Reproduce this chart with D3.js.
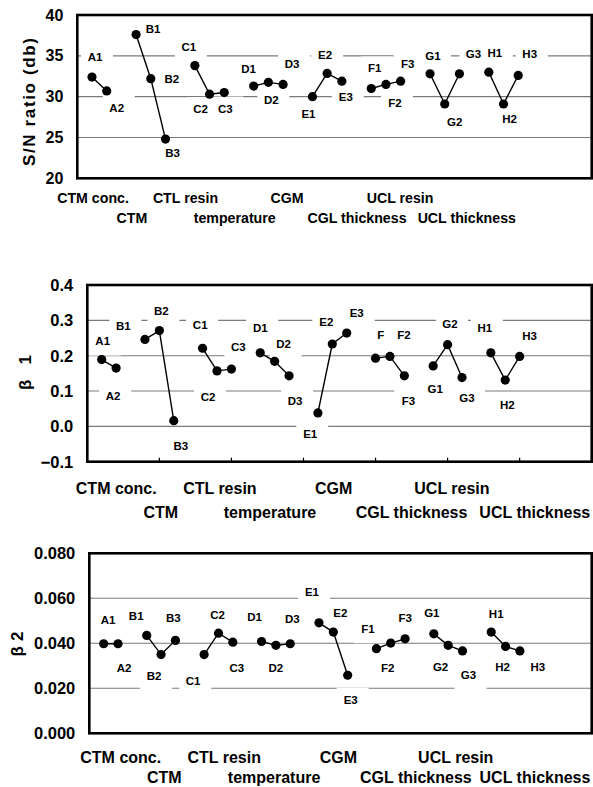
<!DOCTYPE html>
<html><head><meta charset="utf-8">
<script src="https://cdn.jsdelivr.net/npm/d3@7"></script>
<style>
html,body{margin:0;padding:0;background:#fff;}
svg{display:block;}
text{font-family:"Liberation Sans",Arial,sans-serif;font-weight:bold;fill:#000;}
</style></head>
<body>
<script>
// ---- data ----
const categories = ["A1","A2","","B1","B2","B3","","C1","C2","C3","","D1","D2","D3","","E1","E2","E3","","F1","F2","F3","","G1","G2","G3","","H1","H2","H3"];
const snRatio = [32.4,30.7,null,37.6,32.2,24.8,null,33.8,30.3,30.5,null,31.3,31.75,31.5,null,30.0,32.85,31.9,null,31.0,31.5,31.9,null,32.8,29.1,32.8,null,33.0,29.1,32.6];
const beta1 = [0.189,0.165,null,0.246,0.271,0.016,null,0.221,0.157,0.162,null,0.208,0.184,0.143,null,0.038,0.233,0.264,null,0.193,0.198,0.143,null,0.171,0.231,0.138,null,0.208,0.131,0.198];
const beta2 = [0.0398,0.0398,null,0.0435,0.0350,0.0413,null,0.0350,0.0445,0.0405,null,0.0408,0.0391,0.0398,null,0.0491,0.0450,0.0258,null,0.0376,0.0401,0.0420,null,0.0442,0.0391,0.0366,null,0.0450,0.0386,0.0366];
const pointLabels1 = categories;
const pointLabels2 = categories.map(c => c === "F1" ? "F" : c);
const pointLabels3 = categories;
const factorNames = ["CTM conc.","CTM","CTL resin","temperature","CGM","CGL thickness","UCL resin","UCL thickness"];
const snTicks = [20,25,30,35,40];
const beta1Ticks = [-0.1,0.0,0.1,0.2,0.3,0.4];
const beta2Ticks = [0.000,0.020,0.040,0.060,0.080];

// ---- layout (label offsets in px relative to their point, in order of non-blank categories) ----
const offs1 = [[3,-20],[10,17],[17,-6],[21,0],[7,14],[-6,-19],[-9,15],[1,16],[-5,-17],[3,18],[9,-20],[-4,17],[-2,-18],[4,16],[3.5,-20],[9,19],[7,-17],[3,-18],[10,18.5],[14,-19.5],[6,-19],[6,15],[11.5,-21]];
const offs2 = [[1,-18.5],[-3,28],[-21.6,-13.5],[2,-20],[7,25],[-2.4,-23],[-9,26],[7,-22],[0,-25],[9,-17],[6,25.5],[-7.7,21],[-6,-22.5],[10,-19.6],[5.3,-23],[14,-21],[4,25],[2,23],[2.4,-21],[5,20],[-6,-25],[2,25],[10,-20.6]];
const offs3 = [[4.5,-24],[6,24],[-10.5,-19],[-7,21.5],[-2,-22],[-11,26.5],[-1,-18.5],[4,26],[-7,-25],[0,22.5],[2,-24.6],[-7,-30.5],[7,-19],[3,24.5],[-8.5,-20],[-3,24.5],[0,-20.5],[-2,-20.5],[-7.6,22],[6,24],[5,-18],[-3,21],[18,16.5]];
const factorPos1 = [0.07,2.72,6.36,9.71,13.27,18.03,20.96,25.5];
const factorPos2 = [1.01,4.1,8.2,11.68,16.1,21.5,24.3,30.05];
const factorPos3 = [1.19,4.22,8.4,11.87,16.35,21.75,24.53,30.05];

const W = 593, H = 787;
const svg = d3.select("body").append("svg").attr("width", W).attr("height", H);

const panels = [
  {values: snRatio, labels: pointLabels1, offs: offs1, ticks: snTicks, domain:[20,40], grid:[25,30,35],
   left:77.3, right:591.7, top:15, bottom:178.3, fmt: d3.format("d"), tickFont:16,
   title:"S/N ratio (db)", titleX:29, titleY:102, titleLen:128, titleFont:17,
   factorPos: factorPos1, factorFont:14.2, row1:197.7, row2:217.7, bottomTicks:false},
  {values: beta1, labels: pointLabels2, offs: offs2, ticks: beta1Ticks, domain:[-0.1,0.4], grid:[0,0.1,0.2,0.3],
   left:87.3, right:591.7, top:285, bottom:461.7, fmt: d => d3.format(".1f")(d).replace("-", "\u2212"), tickFont:16.5,
   title:"\u03b2 1", titleX:25.6, titleY:372.5, titleLen:35, titleFont:17,
   factorPos: factorPos2, factorFont:16, row1:488.3, row2:512.7, bottomTicks:true},
  {values: beta2, labels: pointLabels3, offs: offs3, ticks: beta2Ticks, domain:[0,0.08], grid:[0.02,0.04,0.06],
   left:89.3, right:591.7, top:553.3, bottom:733.3, fmt: d3.format(".3f"), tickFont:16.5,
   title:"\u03b2 2", titleX:17.5, titleY:644, titleLen:25, titleFont:17,
   factorPos: factorPos3, factorFont:16, row1:757.3, row2:777.5, bottomTicks:false}
];

panels.forEach(p => {
  const g = svg.append("g");
  const x = d3.scaleLinear().domain([-1, 34]).range([p.left, p.right]);
  const y = d3.scaleLinear().domain(p.domain).range([p.bottom, p.top]);

  // gridlines
  g.selectAll(".grid").data(p.grid).join("line")
    .attr("x1", p.left).attr("x2", p.right)
    .attr("y1", d => y(d)).attr("y2", d => y(d))
    .attr("stroke", "#7a7a7a").attr("stroke-width", 1.1);

  // point label boxes + texts
  const pts = p.values.map((v,i) => ({v, i, name: p.labels[i]})).filter(d => d.v != null);
  pts.forEach((d,k) => { d.cx = x(d.i) + p.offs[k][0]; d.cy = y(d.v) + p.offs[k][1]; });
  g.selectAll(".lbox").data(pts).join("rect")
    .attr("x", d => d.cx - 14).attr("y", d => d.cy - 12)
    .attr("width", 32).attr("height", 26.5).attr("fill", "#fff");
  g.selectAll(".ltxt").data(pts).join("text")
    .attr("x", d => d.cx).attr("y", d => d.cy)
    .attr("text-anchor", "middle").attr("dominant-baseline", "central")
    .attr("font-size", 11.5).text(d => d.name);

  // series lines (broken at blank categories)
  const line = d3.line().defined(d => d != null).x((d,i) => x(i)).y(d => y(d));
  g.append("path").datum(p.values).attr("d", line)
    .attr("fill", "none").attr("stroke", "#000").attr("stroke-width", 1.4);
  g.selectAll(".pt").data(pts).join("circle")
    .attr("cx", d => x(d.i)).attr("cy", d => y(d.v)).attr("r", 4.6).attr("fill", "#000");

  // frame
  g.append("rect").attr("x", p.left).attr("y", p.top)
    .attr("width", p.right - p.left).attr("height", p.bottom - p.top)
    .attr("fill", "none").attr("stroke", "#000").attr("stroke-width", 2.6);

  if (p.bottomTicks) {
    g.selectAll(".bt").data(d3.range(4, 34, 5)).join("line")
      .attr("x1", d => x(d)).attr("x2", d => x(d))
      .attr("y1", p.bottom).attr("y2", p.bottom - 4)
      .attr("stroke", "#000").attr("stroke-width", 1.2);
  }

  // y tick labels
  g.selectAll(".yt").data(p.ticks).join("text")
    .attr("x", p.left - 14).attr("y", d => y(d))
    .attr("text-anchor", "end").attr("dominant-baseline", "central")
    .attr("font-size", p.tickFont).text(p.fmt);

  // y title
  g.append("text")
    .attr("transform", `translate(${p.titleX},${p.titleY}) rotate(-90)`)
    .attr("text-anchor", "middle").attr("dominant-baseline", "central")
    .attr("font-size", p.titleFont)
    .attr("textLength", p.titleLen).attr("lengthAdjust", "spacing")
    .text(p.title);

  // factor (category group) labels, two staggered rows
  g.selectAll(".fl").data(factorNames).join("text")
    .attr("x", (d,i) => x(p.factorPos[i]))
    .attr("y", (d,i) => i % 2 === 0 ? p.row1 : p.row2)
    .attr("text-anchor", "middle").attr("dominant-baseline", "central")
    .attr("font-size", p.factorFont).text(d => d);
});
</script>
</body></html>
